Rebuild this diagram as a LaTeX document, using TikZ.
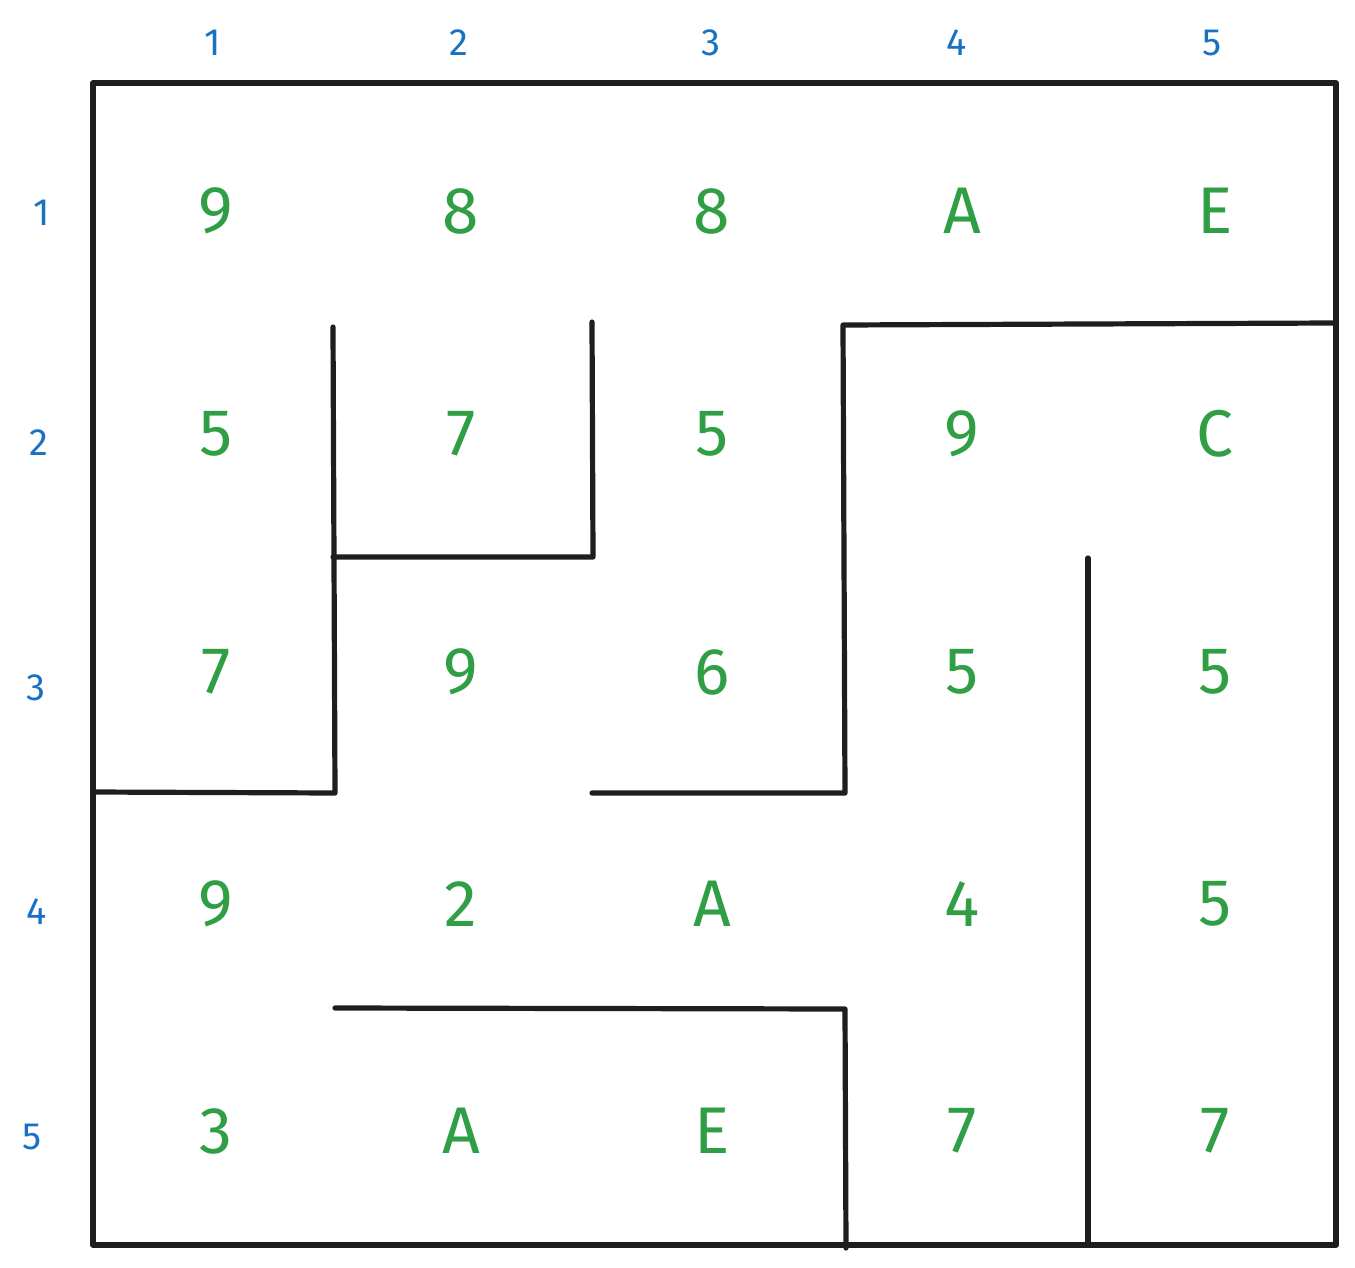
\documentclass[tikz,border=0pt]{standalone}
\usepackage{fontspec}
\setmainfont{Fira Sans}
\definecolor{cellgreen}{HTML}{2F9E44}
\definecolor{labblue}{HTML}{1971C2}
\definecolor{wallc}{HTML}{1E1E1E}
\begin{document}
\begin{tikzpicture}[x=0.5pt,y=-0.5pt,
  wall/.style={draw=wallc,line width=2.6pt,line cap=round,line join=round},
  cell/.style={text=cellgreen,font=\fontsize{33}{36}\selectfont,inner sep=0pt},
  lab/.style={text=labblue,font=\fontsize{19}{22}\selectfont,inner sep=0pt}]
\useasboundingbox (0,0) rectangle (1355,1268);
% column labels
\foreach \x/\t [count=\i] in {213/1,459/2,711/3,957/4,1212/5}
  \node[lab] (c\i) at (\x,43) {\t};
% row labels
\foreach \x/\y/\t [count=\i] in {42/213/1,39/443/2,36/688/3,37/912/4,32/1137/5}
  \node[lab] (r\i) at (\x,\y) {\t};
% outer frame
\draw[wall] (93,83) -- (1336,83) -- (1336,1245) -- (93,1245) -- cycle;
% inner walls
\draw[wall] (333,327) -- (335,793) -- (93,792);
\draw[wall] (333,557) -- (593,557) -- (592,322);
\draw[wall] (1334,323) -- (843,325) -- (845,793) -- (592,793);
\draw[wall] (1088,558) -- (1088,1245);
\draw[wall] (335,1008) -- (845,1009) -- (846,1248);
% cell values
\foreach \y/\row [count=\j] in {211/{9,8,8,A,E},434/{5,7,5,9,C},672/{7,9,6,5,5},904/{9,2,A,4,5},1131/{3,A,E,7,7}}{
  \foreach \v [count=\i] in \row {
    \pgfmathsetmacro{\xx}{{216,461,712,962,1215}[\i-1]}
    \node[cell] (v\j\i) at (\xx,\y) {\v};
  }
}
\end{tikzpicture}
\end{document}
